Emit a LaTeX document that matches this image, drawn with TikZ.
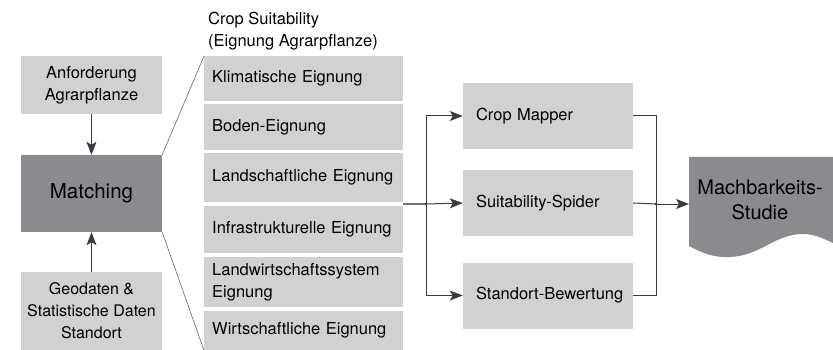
\documentclass[tikz,border=0pt]{standalone}
\usepackage{fontspec}
\setmainfont{TeX Gyre Heros}
\usetikzlibrary{arrows.meta,positioning}
\definecolor{boxgray}{HTML}{D1D1D3}
\definecolor{darkbox}{HTML}{8B8A8F}
\definecolor{linegray}{HTML}{3A3A42}
\newcommand{\txtfont}{\fontsize{16.5}{22}\selectfont}
\tikzset{
  lbox/.style={fill=boxgray, inner sep=0pt, minimum width=141pt, align=center, font=\txtfont},
  rowbox/.style={fill=boxgray, inner ysep=0pt, inner xsep=8pt, text width=183pt, align=left, font=\txtfont},
  rbox/.style={fill=boxgray, inner ysep=0pt, inner xsep=13pt, text width=144pt, minimum height=66pt, align=left, font=\txtfont},
  conn/.style={draw=linegray, line width=1pt},
  arr/.style={conn, -{Stealth[length=13pt,width=10pt,inset=3pt]}},
  zoomline/.style={draw=black!60, line width=0.6pt}
}

\begin{document}
\begin{tikzpicture}[x=1pt,y=-1pt]
\useasboundingbox (0,0) rectangle (833,350);
\node[lbox, minimum height=58pt] (anf) at (91.5,85) {Anforderung\\Agrarpflanze};
\node[lbox, fill=darkbox, minimum height=77pt, font=\fontsize{20.5}{24}\selectfont] (match) at (91.5,193.5) {Matching};
\node[lbox, minimum height=78pt, font=\fontsize{16}{22}\selectfont] (geo) at (91.5,311) {Geodaten \&\\Statistische Daten\\Standort};
\foreach \n/\t/\b/\txt in {klim/56/101/Klimatische Eignung, boden/104/150/Boden-Eignung,
  land/153/202/Landschaftliche Eignung, infra/206/253/Infrastrukturelle Eignung,
  lwirt/257/307/{Landwirtschaftssystem\\Eignung}, wirt/311/350/Wirtschaftliche Eignung}
  \node[rowbox, minimum height={(\b-\t)*1pt}, anchor=north west] (\n) at (204,\t) {\txt};
\node[anchor=south west, align=left, inner xsep=4pt, inner ysep=0pt, font=\txtfont] (title) at (204,50) {Crop Suitability\\(Eignung Agrarpflanze)};
\node[rbox] (crop) at (548,116) {Crop Mapper};
\node[rbox] (spider) at (548,203) {Suitability-Spider};
\node[rbox] (stand) at (548,295.5) {\mbox{Standort-Bewertung}};
\fill[darkbox] (689,157) -- (833,157) -- (833,243)
  .. controls (822,238) and (814,234) .. (803,234)
  .. controls (775,234) and (760,256) .. (730,257)
  .. controls (716,258) and (704,254) .. (689,246) -- cycle;
\node[align=center, inner sep=0pt, font=\fontsize{20}{25}\selectfont] (doc) at (760,200) {Machbarkeits-\\Studie};
\coordinate (sout) at (403,204);
\coordinate (j1) at (426,204);
\coordinate (j2) at (656,204);
\coordinate (docin) at (689,204);
\draw[arr] (anf) -- (match);
\draw[arr] (geo) -- (match);
\draw[zoomline] (match.north east) -- (klim.north west);
\draw[zoomline] (match.south east) -- (wirt.south west);
\draw[conn, draw=black!55, line width=1.4pt] (sout) -- (j1);
\draw[arr] (j1) |- (crop.west);
\draw[arr] (j1) -- (spider.west);
\draw[arr] (j1) |- (stand.west);
\draw[conn] (crop.east) -| (j2);
\draw[conn] (stand.east) -| (j2);
\draw[conn] (spider.east) -- (j2);
\draw[arr] (j2) -- (docin);
\fill[linegray] (j1) circle (1.5pt) (j2) circle (1.5pt);
\end{tikzpicture}
\end{document}
